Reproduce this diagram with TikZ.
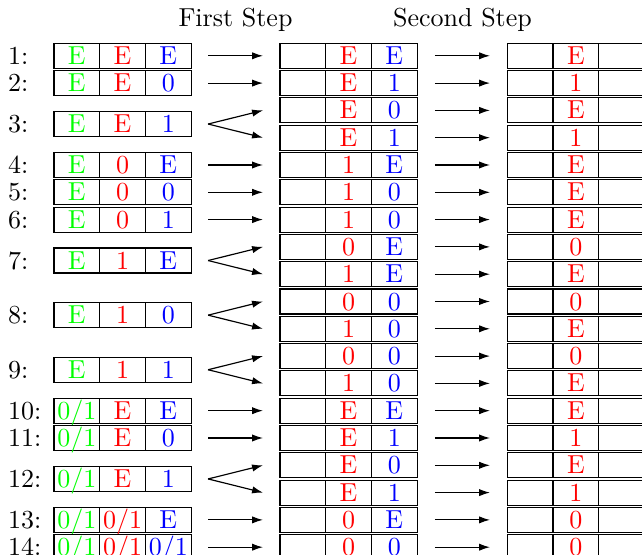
\documentclass[tikz,border=0pt]{standalone}
\usetikzlibrary{arrows.meta,calc}
\newcommand\zeroone{0/1}
\begin{document}
\begin{tikzpicture}[x=0.3846pt,y=-0.3846pt,
  cell/.style={draw,line width=0.45pt,minimum width=17.58pt,minimum height=9.62pt,inner sep=0pt,outer sep=0pt,text height=6.6pt,text depth=0pt},
  lab/.style={inner sep=0pt,text height=6.6pt,text depth=0pt,anchor=west},
  arr/.style={-{Latex[length=4.2pt,width=2.8pt]},line width=0.45pt}]
\useasboundingbox (0,0) rectangle (642,555);
\clip (0,0) rectangle (642,555);
\node[anchor=base,inner sep=0pt] (h1) at (235.5,26.7) {First Step};
\node[anchor=base,inner sep=0pt] (h2) at (462.5,26.7) {Second Step};
% left column
\foreach \n/\p/\a/\b/\c in {1/0/E/E/E,2/1/E/E/0,3/2.5/E/E/1,4/4/E/0/E,5/5/E/0/0,6/6/E/0/1,7/7.5/E/1/E,8/9.5/E/1/0,9/11.5/E/1/1,10/13/\zeroone/E/E,11/14/\zeroone/E/0,12/15.5/\zeroone/E/1,13/17/\zeroone/\zeroone/E,14/18/\zeroone/\zeroone/\zeroone}{
  \node[lab] (N\n) at (7.7,{55.8+27.3*\p}) {\n:};
  \node[cell,text=green] (L\n-1) at (76.85,{55.8+27.3*\p}) {\a};
  \node[cell,text=red] (L\n-2) at (122.55,{55.8+27.3*\p}) {\b};
  \node[cell,text=blue] (L\n-3) at (168.25,{55.8+27.3*\p}) {\c};
}
% middle and right columns
\foreach \i/\b/\c/\r in {0/E/E/E,1/E/1/1,2/E/0/E,3/E/1/1,4/1/E/E,5/1/0/E,6/1/0/E,7/0/E/0,8/1/E/E,9/0/0/0,10/1/0/E,11/0/0/0,12/1/0/E,13/E/E/E,14/E/1/1,15/E/0/E,16/E/1/1,17/0/E/0,18/0/0/0}{
  \node[cell] (M\i-1) at (302.85,{55.8+27.3*\i}) {};
  \node[cell,text=red] (M\i-2) at (348.55,{55.8+27.3*\i}) {\b};
  \node[cell,text=blue] (M\i-3) at (394.25,{55.8+27.3*\i}) {\c};
  \node[cell] (R\i-1) at (530.15,{55.8+27.3*\i}) {};
  \node[cell,text=red] (R\i-2) at (575.85,{55.8+27.3*\i}) {\r};
  \node[cell] (R\i-3) at (621.55,{55.8+27.3*\i}) {};
  \coordinate (ms\i) at ($(M\i-3.east)+(17.7,0)$);
  \coordinate (me\i) at ($(R\i-1.west)+(-17.3,0)$);
  \draw[arr] (ms\i) -- (me\i);
}
% first step arrows
\foreach \n/\i in {1/0,2/1,3/2,3/3,4/4,5/5,6/6,7/7,7/8,8/9,8/10,9/11,9/12,10/13,11/14,12/15,12/16,13/17,14/18}{
  \coordinate (ls\n) at ($(L\n-3.east)+(17,0)$);
  \coordinate (le\i) at ($(M\i-1.west)+(-17,0)$);
  \draw[arr] (ls\n) -- (le\i);
}
\end{tikzpicture}
\end{document}
